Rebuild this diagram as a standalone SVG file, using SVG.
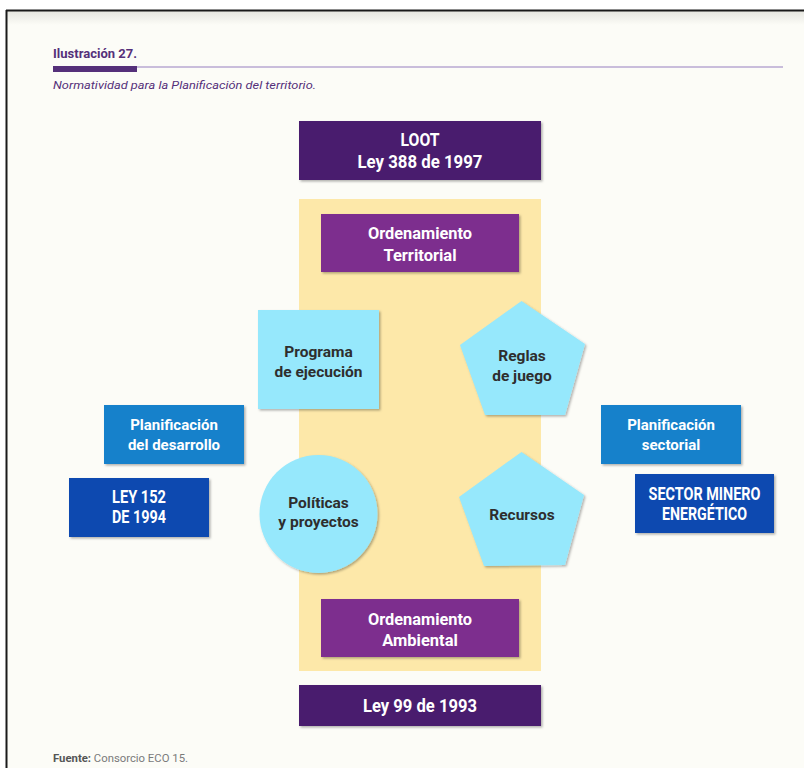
<svg xmlns="http://www.w3.org/2000/svg" width="804" height="768" viewBox="0 0 804 768">
<defs>
<linearGradient id="topshade" x1="0" y1="0" x2="0" y2="1">
<stop offset="0" stop-color="#e6e6e0"/>
<stop offset="1" stop-color="#fcfcf7"/>
</linearGradient>
<filter id="sh" x="-10%" y="-10%" width="125%" height="125%">
<feDropShadow dx="1.5" dy="1.5" stdDeviation="0.8" flood-color="#000" flood-opacity="0.3"/>
</filter>
<style>
.w{fill:#ffffff;font-family:Roboto,"Liberation Sans",sans-serif;font-weight:bold;text-anchor:middle}
.d{fill:#2e2e2e;font-family:Roboto,"Liberation Sans",sans-serif;font-weight:bold;text-anchor:middle;font-size:15.5px}
.cap{font-size:18px}
.mid{font-size:16.5px}
.sm{font-size:15px}
.cyan{fill:#96e8fc}
</style>
</defs>
<rect x="0" y="0" width="804" height="768" fill="#ffffff"/>
<rect x="6" y="10" width="798" height="758" fill="#fcfcf7"/>
<rect x="6" y="11" width="798" height="14" fill="url(#topshade)"/>
<line x1="6" y1="10.5" x2="804" y2="10.5" stroke="#1a1a1a" stroke-width="2"/>
<line x1="6.5" y1="10" x2="6.5" y2="768" stroke="#1a1a1a" stroke-width="2"/>

<g id="header">
<text x="53" y="58" font-family="Roboto,'Liberation Sans',sans-serif" font-weight="bold" font-size="13" fill="#55307a" textLength="84" lengthAdjust="spacingAndGlyphs">Ilustración 27.</text>
<line x1="137" y1="67" x2="783" y2="67" stroke="#b9a9d2" stroke-width="1.5"/>
<rect x="53" y="66" width="84" height="6" fill="#55307a"/>
<text x="53" y="89" font-family="Roboto,'Liberation Sans',sans-serif" font-style="italic" font-size="11.5" fill="#55307a" textLength="263" lengthAdjust="spacingAndGlyphs">Normatividad para la Planificación del territorio.</text>
</g>

<rect id="band" x="299" y="199" width="242" height="472" fill="#fde8a9"/>

<g id="loot">
<rect x="299" y="121" width="242" height="59" fill="#4a1e6e" filter="url(#sh)"/>
<text class="w cap" x="420" y="146" textLength="39" lengthAdjust="spacingAndGlyphs">LOOT</text>
<text class="w cap" x="420" y="168" textLength="125" lengthAdjust="spacingAndGlyphs">Ley 388 de 1997</text>
</g>

<g id="ord-territorial">
<rect x="321" y="214" width="198" height="58" fill="#7d2e8e" filter="url(#sh)"/>
<text class="w mid" x="420" y="239" textLength="104" lengthAdjust="spacingAndGlyphs">Ordenamiento</text>
<text class="w mid" x="420" y="261">Territorial</text>
</g>

<g id="programa">
<rect class="cyan" x="258" y="310" width="121" height="99" filter="url(#sh)"/>
<text class="d" x="318.5" y="357">Programa</text>
<text class="d" x="318.5" y="377">de ejecución</text>
</g>

<g id="reglas">
<polygon class="cyan" points="521.5,301 585,344 565,415 485,415 460,345" filter="url(#sh)"/>
<text class="d" x="522" y="361">Reglas</text>
<text class="d" x="522" y="381">de juego</text>
</g>

<g id="plan-desarrollo">
<rect x="104" y="405" width="140" height="59" fill="#1681cb" filter="url(#sh)"/>
<text class="w sm" x="174" y="430">Planificación</text>
<text class="w sm" x="174" y="450">del desarrollo</text>
</g>

<g id="plan-sectorial">
<rect x="601" y="405" width="140" height="59" fill="#1681cb" filter="url(#sh)"/>
<text class="w sm" x="671" y="430">Planificación</text>
<text class="w sm" x="671" y="450">sectorial</text>
</g>

<g id="ley152">
<rect x="69" y="478" width="140" height="59" fill="#0a49b0" filter="url(#sh)"/>
<text class="w cap" x="139" y="503" textLength="54" lengthAdjust="spacingAndGlyphs">LEY 152</text>
<text class="w cap" x="139" y="523" textLength="54" lengthAdjust="spacingAndGlyphs">DE 1994</text>
</g>

<g id="sector-minero">
<rect x="635" y="474" width="139" height="59" fill="#0a49b0" filter="url(#sh)"/>
<text class="w cap" x="704.5" y="500" textLength="112" lengthAdjust="spacingAndGlyphs">SECTOR MINERO</text>
<text class="w cap" x="704.5" y="520" textLength="85" lengthAdjust="spacingAndGlyphs">ENERGÉTICO</text>
</g>

<g id="politicas">
<circle class="cyan" cx="318.5" cy="514" r="59" filter="url(#sh)"/>
<text class="d" x="318.5" y="508">Políticas</text>
<text class="d" x="318.5" y="527">y proyectos</text>
</g>

<g id="recursos">
<polygon class="cyan" points="521.5,452 584,495 565,565 484,566 459,497" filter="url(#sh)"/>
<text class="d" x="522" y="520">Recursos</text>
</g>

<g id="ord-ambiental">
<rect x="321" y="599" width="198" height="58" fill="#7d2e8e" filter="url(#sh)"/>
<text class="w mid" x="420" y="625" textLength="104" lengthAdjust="spacingAndGlyphs">Ordenamiento</text>
<text class="w mid" x="420" y="646">Ambiental</text>
</g>

<g id="ley99">
<rect x="299" y="685" width="242" height="41" fill="#4a1e6e" filter="url(#sh)"/>
<text class="w cap" x="420" y="712" textLength="114" lengthAdjust="spacingAndGlyphs">Ley 99 de 1993</text>
</g>

<g id="connectors"></g>

<text x="53" y="762" font-family="Roboto,'Liberation Sans',sans-serif" font-size="11" fill="#7a7a7a" textLength="135" lengthAdjust="spacingAndGlyphs"><tspan fill="#555" font-weight="bold">Fuente:</tspan> Consorcio ECO 15.</text>
</svg>
